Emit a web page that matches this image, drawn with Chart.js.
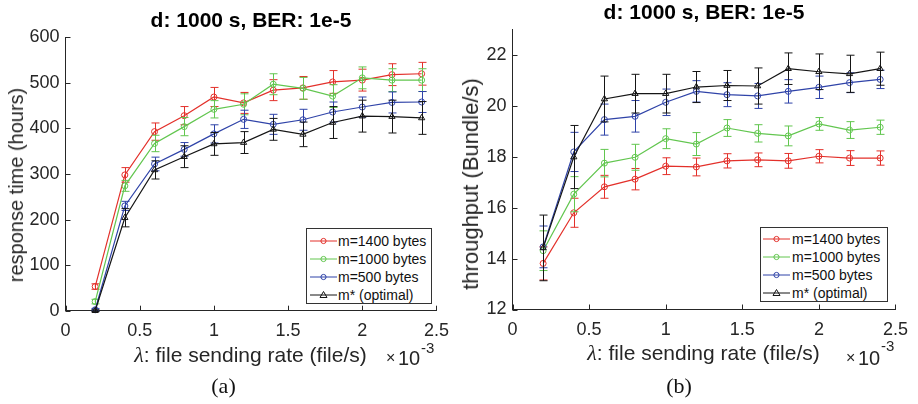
<!DOCTYPE html>
<html>
<head>
<meta charset="utf-8">
<script src="https://cdn.jsdelivr.net/npm/chart.js@4.4.1/dist/chart.umd.min.js"></script>
<style>
html,body{margin:0;padding:0;background:#fff;}
body{width:918px;height:404px;position:relative;overflow:hidden;font-family:"Liberation Sans",Arial,Helvetica,sans-serif;color:#262626;}
canvas{position:absolute;top:0;}
.txt{position:absolute;white-space:nowrap;line-height:1;}
.xl{font-size:21px;transform:translateX(-50%);}
.lam{font-family:"Liberation Serif","DejaVu Serif",serif;font-style:italic;font-size:22px;}
.yl{transform:translate(-50%,-50%) rotate(-90deg);}
.cap{font-family:"Liberation Serif","DejaVu Serif",serif;font-size:22px;transform:translateX(-50%);color:#111;}
.legend{position:absolute;border:1px solid #333;background:#fff;box-sizing:border-box;}
.row{position:absolute;left:0;width:100%;height:18px;line-height:18px;font-size:14px;color:#111;white-space:nowrap;}
.row svg{position:absolute;top:0;}
.row span{position:absolute;top:0;}
</style>
</head>
<body>
<canvas id="cA" width="459" height="404" style="left:0px;width:459px;height:404px"></canvas>
<canvas id="cB" width="459" height="404" style="left:459px;width:459px;height:404px"></canvas>

<div class="txt yl" style="left:15.5px;top:185px;font-size:20px">response time (hours)</div>
<div class="txt yl" style="left:471px;top:183.5px;font-size:22px">throughput (Bundle/s)</div>

<div class="txt xl" style="left:250.5px;top:343.5px"><span class="lam">λ</span>: file sending rate (file/s)</div>
<div class="txt xl" style="left:703.5px;top:341.5px"><span class="lam">λ</span>: file sending rate (file/s)</div>

<div class="txt" style="left:386px;top:350px;font-size:16px">×</div>
<div class="txt" style="left:398px;top:348px;font-size:20px">10</div>
<div class="txt" style="left:421px;top:340px;font-size:15px">-3</div>
<div class="txt" style="left:846px;top:350px;font-size:16px">×</div>
<div class="txt" style="left:858px;top:348px;font-size:20px">10</div>
<div class="txt" style="left:881px;top:338px;font-size:15px">-3</div>

<div class="txt cap" style="left:223.5px;top:375px">(a)</div>
<div class="txt cap" style="left:679px;top:375px">(b)</div>

<div class="legend" id="legA" style="left:306px;top:228px;width:126px;height:76px"></div>
<div class="legend" id="legB" style="left:760px;top:227px;width:128px;height:75px"></div>

<script>
// ---- data ----
const chartTitle = 'd: 1000 s, BER: 1e-5';
const lambdaValues = [0.2, 0.4, 0.6, 0.8, 1.0, 1.2, 1.4, 1.6, 1.8, 2.0, 2.2, 2.4]; // x 1e-3 file/s
const seriesLabels = ['m=1400 bytes', 'm=1000 bytes', 'm=500 bytes', 'm* (optimal)'];
const seriesColors = ['#e3302a', '#62c64f', '#2f43a8', '#151515'];
const seriesMarkers = ['circle', 'circle', 'circle', 'triangle'];

const xTickValues = [0, 0.5, 1, 1.5, 2, 2.5];
const xTickLabels = ['0', '0.5', '1', '1.5', '2', '2.5'];

// (a) response time (hours)
const rt1400    = [53, 298, 393, 428, 469, 456, 484, 489, 502, 506, 518, 520];
const rt1400Err = [6, 16, 19, 20, 21, 23, 23, 25, 25, 24, 24, 25];
const rt1000    = [20, 274, 367, 404, 442, 453, 497, 488, 471, 511, 506, 506];
const rt1000Err = [5, 12, 18, 20, 19, 23, 23, 24, 25, 24, 25, 25];
const rt500     = [2, 230, 322, 354, 388, 420, 409, 419, 436, 447, 457, 458];
const rt500Err  = [3, 10, 15, 15, 20, 20, 22, 23, 22, 22, 23, 23];
const rtOpt     = [0, 204, 309, 338, 366, 369, 398, 387, 413, 427, 426, 423];
const rtOptErr  = [2, 20, 20, 24, 25, 24, 24, 27, 35, 35, 36, 36];
const rtTickValues = [0, 100, 200, 300, 400, 500, 600];
const rtTickLabels = ['0', '100', '200', '300', '400', '500', '600'];

// (b) throughput (Bundle/s)
const tp1400    = [13.81, 15.80, 16.82, 17.12, 17.63, 17.60, 17.84, 17.88, 17.84, 18.02, 17.95, 17.95];
const tp1400Err = [0.65, 0.57, 0.45, 0.42, 0.33, 0.35, 0.28, 0.27, 0.29, 0.26, 0.29, 0.28];
const tp1000    = [14.31, 16.53, 17.75, 17.98, 18.71, 18.50, 19.13, 18.92, 18.82, 19.29, 19.05, 19.16];
const tp1000Err = [0.78, 0.69, 0.54, 0.51, 0.39, 0.45, 0.33, 0.34, 0.39, 0.25, 0.33, 0.28];
const tp500     = [14.46, 18.19, 19.46, 19.59, 20.14, 20.57, 20.44, 20.39, 20.57, 20.73, 20.91, 21.04];
const tp500Err  = [0.82, 0.77, 0.61, 0.62, 0.52, 0.42, 0.47, 0.49, 0.46, 0.44, 0.39, 0.36];
const tpOpt     = [14.42, 17.99, 20.27, 20.48, 20.48, 20.74, 20.80, 20.78, 21.46, 21.34, 21.26, 21.46];
const tpOptErr  = [1.29, 1.24, 0.90, 0.76, 0.76, 0.61, 0.59, 0.71, 0.62, 0.70, 0.73, 0.65];
const tpTickValues = [12, 14, 16, 18, 20, 22];
const tpTickLabels = ['12', '14', '16', '18', '20', '22'];

// ---- plugins ----
Chart.defaults.font.family = '"Liberation Sans", Arial, Helvetica, sans-serif';

const errorBarPlugin = {
  id: 'errorBars',
  afterDatasetDraw(chart, args) {
    const ds = chart.data.datasets[args.index];
    if (!ds.errors) return;
    const ctx = chart.ctx, xs = chart.scales.x, ys = chart.scales.y;
    ctx.save();
    ctx.strokeStyle = ds.borderColor;
    ctx.lineWidth = 1;
    ctx.beginPath();
    ds.data.forEach((p, i) => {
      const e = ds.errors[i];
      const x = Math.round(xs.getPixelForValue(p.x)) + 0.5;
      const y1 = ys.getPixelForValue(p.y - e);
      const y2 = ys.getPixelForValue(p.y + e);
      ctx.moveTo(x, y1); ctx.lineTo(x, y2);
      ctx.moveTo(x - 4, y1); ctx.lineTo(x + 4, y1);
      ctx.moveTo(x - 4, y2); ctx.lineTo(x + 4, y2);
    });
    ctx.stroke();
    ctx.restore();
  }
};

const innerTicksPlugin = {
  id: 'innerTicks',
  afterDraw(chart) {
    const ctx = chart.ctx, xs = chart.scales.x, ys = chart.scales.y, a = chart.chartArea;
    ctx.save();
    ctx.strokeStyle = '#262626';
    ctx.lineWidth = 1;
    ctx.beginPath();
    xs.ticks.forEach(t => {
      const px = Math.round(xs.getPixelForValue(t.value)) + 0.5;
      ctx.moveTo(px, a.bottom); ctx.lineTo(px, a.bottom - 5);
    });
    ys.ticks.forEach(t => {
      const py = Math.round(ys.getPixelForValue(t.value)) + 0.5;
      ctx.moveTo(a.left, py); ctx.lineTo(a.left + 5, py);
    });
    ctx.stroke();
    ctx.restore();
  }
};

function makeChart(canvasId, cfg) {
  return new Chart(document.getElementById(canvasId), {
    type: 'line',
    data: {
      datasets: cfg.series.map((vals, i) => ({
        label: seriesLabels[i],
        data: lambdaValues.map((x, j) => ({ x: x, y: vals[j] })),
        errors: cfg.errors[i],
        borderColor: seriesColors[i],
        backgroundColor: seriesColors[i],
        borderWidth: 1.2,
        pointStyle: seriesMarkers[i],
        pointRadius: seriesMarkers[i] === 'triangle' ? 3.6 : 3,
        pointBorderWidth: 1,
        pointBackgroundColor: 'rgba(0,0,0,0)',
        pointBorderColor: seriesColors[i],
        fill: false,
        tension: 0,
        clip: false,
        order: seriesLabels.length - i
      }))
    },
    options: {
      responsive: false,
      animation: false,
      devicePixelRatio: 1,
      events: [],
      layout: { padding: { left: 0, right: cfg.padRight, top: 0, bottom: 0 } },
      plugins: {
        legend: { display: false },
        tooltip: { enabled: false },
        title: {
          display: true, text: chartTitle, fullSize: false, color: '#000',
          font: { size: 21, weight: 'bold' },
          padding: { top: cfg.titleTop, bottom: cfg.titleBottom }
        }
      },
      scales: {
        x: {
          type: 'linear', min: 0, max: 2.5,
          afterBuildTicks: s => { s.ticks = xTickValues.map(v => ({ value: v })); },
          afterFit: s => { s.height = cfg.xAxisH; },
          ticks: { callback: (v, i) => xTickLabels[i], font: { size: 18 }, color: '#262626', padding: cfg.xPad, maxRotation: 0, autoSkip: false },
          grid: { display: false, drawTicks: false },
          border: { display: true, color: '#262626', width: 1 }
        },
        y: {
          type: 'linear', min: cfg.yMin, max: cfg.yMax,
          afterBuildTicks: s => { s.ticks = cfg.yTicks.map(v => ({ value: v })); },
          afterFit: s => { s.width = cfg.yAxisW; },
          ticks: { callback: (v, i) => cfg.yTickLabels[i], font: { size: 18 }, color: '#262626', padding: 6, autoSkip: false },
          grid: { display: false, drawTicks: false },
          border: { display: true, color: '#262626', width: 1 }
        }
      }
    },
    plugins: [errorBarPlugin, innerTicksPlugin]
  });
}

makeChart('cA', {
  series: [rt1400, rt1000, rt500, rtOpt],
  errors: [rt1400Err, rt1000Err, rt500Err, rtOptErr],
  yMin: 0, yMax: 600, yTicks: rtTickValues, yTickLabels: rtTickLabels,
  padRight: 19, yAxisW: 65.5, xAxisH: 93.3, titleTop: 8.4, titleBottom: 3.7, xPad: 10
});
makeChart('cB', {
  series: [tp1400, tp1000, tp500, tpOpt],
  errors: [tp1400Err, tp1000Err, tp500Err, tpOptErr],
  yMin: 12, yMax: 23, yTicks: tpTickValues, yTickLabels: tpTickLabels,
  padRight: 22, yAxisW: 53.5, xAxisH: 94.5, titleTop: 0.7, titleBottom: 3.6, xPad: 10
});

function buildLegend(id, cfg) {
  const box = document.getElementById(id);
  seriesLabels.forEach((lab, i) => {
    const c = seriesColors[i];
    const row = document.createElement('div');
    row.className = 'row';
    row.style.top = (cfg.top + i * cfg.pitch) + 'px';
    const marker = seriesMarkers[i] === 'triangle'
      ? '<polygon points="13.5,5.5 17,11.5 10,11.5" fill="none" stroke="' + c + '" stroke-width="1"/>'
      : '<circle cx="13.5" cy="9" r="2.6" fill="none" stroke="' + c + '" stroke-width="1"/>';
    row.innerHTML = '<svg width="27" height="18" style="left:' + cfg.sx + 'px">' +
      '<line x1="0" y1="9" x2="27" y2="9" stroke="' + c + '" stroke-width="1"/>' + marker + '</svg>' +
      '<span style="left:' + cfg.tx + 'px">' + lab + '</span>';
    box.appendChild(row);
  });
}
buildLegend('legA', { top: 3, pitch: 18, sx: 3, tx: 31 });
buildLegend('legB', { top: 2, pitch: 17.9, sx: 2, tx: 31 });
</script>
</body>
</html>
